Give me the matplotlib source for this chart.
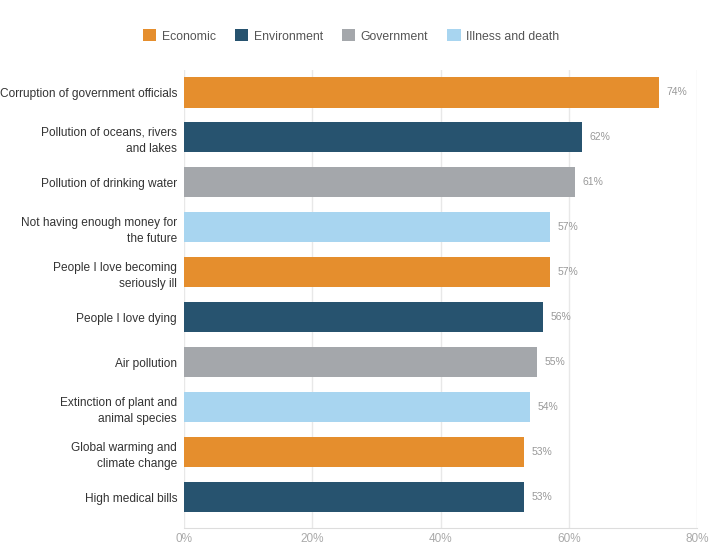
import matplotlib
matplotlib.use("Agg")
import matplotlib.pyplot as plt
from matplotlib.patches import Patch

plt.rcParams['font.family'] = ['Liberation Sans', 'DejaVu Sans']

categories = [
    "Corruption of government officials",
    "Pollution of oceans, rivers\nand lakes",
    "Pollution of drinking water",
    "Not having enough money for\nthe future",
    "People I love becoming\nseriously ill",
    "People I love dying",
    "Air pollution",
    "Extinction of plant and\nanimal species",
    "Global warming and\nclimate change",
    "High medical bills",
]
values = [74, 62, 61, 57, 57, 56, 55, 54, 53, 53]
groups = ["Economic", "Environment", "Government", "Illness and death"]
group_colors = ["#E58E2D", "#27536F", "#A4A7AB", "#A8D5F0"]
bar_groups = [0, 1, 2, 3, 0, 1, 2, 3, 0, 1]
xticks = [0, 20, 40, 60, 80]

fig = plt.figure(figsize=(7.1, 5.46), dpi=100)
ax = fig.add_axes([184/710, 1-528/546, (697-184)/710, (528-70)/546])

y = list(range(len(categories)))
colors = [group_colors[g] for g in bar_groups]
ax.barh(y, values, height=0.67, color=colors, zorder=3)
for yi, v in zip(y, values):
    ax.text(v + 1.2, yi, f"{v}%", va="center", ha="left", fontsize=7.5, color="#999999")

ax.set_xlim(0, 80)
ax.set_ylim(9.5 + 8.5/45, -0.5)
ax.set_yticks(y)
ax.set_yticklabels(categories, fontsize=8.6, color="#333333", linespacing=1.45)
ax.set_xticks(xticks)
ax.set_xticklabels([f"{t}%" for t in xticks], fontsize=8.5, color="#aaaaaa")
ax.tick_params(axis="y", length=0, pad=5)
ax.tick_params(axis="x", length=0, pad=3.5)
ax.grid(axis="x", color="#e8e8e8", linewidth=1, zorder=0)
for s in ["top", "right", "left"]:
    ax.spines[s].set_visible(False)
ax.spines["bottom"].set_color("#dddddd")

handles = [Patch(facecolor=c, edgecolor="none") for c in group_colors]
fig.legend(handles, groups, loc="center", bbox_to_anchor=(351/710, 1-36/546), ncol=4,
           frameon=False, fontsize=8.8, labelcolor="#555555", handlelength=1.1,
           handleheight=1.1, handletextpad=0.45, columnspacing=1.55)

fig.savefig("out.png", dpi=100)
